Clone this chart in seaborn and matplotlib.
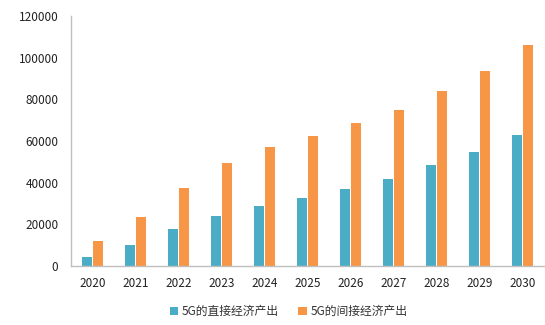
import matplotlib
matplotlib.use("Agg")
import matplotlib.pyplot as plt
import seaborn as sns
import pandas as pd

years = ["2020", "2021", "2022", "2023", "2024", "2025", "2026", "2027", "2028", "2029", "2030"]
direct = [4460, 10070, 17600, 24100, 28770, 32600, 36780, 41870, 48280, 54820, 62800]
indirect = [11850, 23350, 37250, 49550, 57200, 62330, 68560, 74800, 84050, 93650, 105960]
series_names = ["5G的直接经济产出", "5G的间接经济产出"]
yticks = [0, 20000, 40000, 60000, 80000, 100000, 120000]

sns.set_theme(style="white")
plt.rcParams['font.family'] = ['Noto Sans CJK SC', 'DejaVu Sans']

df = pd.DataFrame({
    "year": years * 2,
    "value": direct + indirect,
    "series": [series_names[0]] * len(years) + [series_names[1]] * len(years),
})

fig = plt.figure(figsize=(5.45, 3.25), dpi=100)
ax = fig.add_axes([0.130, 0.1815, 0.868, 0.7695])
palette = {series_names[0]: "#4BACC6", series_names[1]: "#F79646"}
sns.barplot(data=df, x="year", y="value", hue="series", palette=palette,
            width=0.51, gap=0.08, ax=ax, saturation=1, edgecolor="none")

ax.set_xlim(-0.5, len(years) - 0.5)
ax.set_ylim(0, 120000)
ax.set_yticks(yticks)
ax.set_yticklabels([str(t) for t in yticks], fontsize=8.5, color="#222222")
ax.tick_params(axis="x", labelsize=8.5, colors="#222222", length=0, pad=8)
ax.tick_params(axis="y", length=0, pad=9)
ax.set_xlabel("")
ax.set_ylabel("")
for s in ["top", "right"]:
    ax.spines[s].set_visible(False)
for s in ["left", "bottom"]:
    ax.spines[s].set_color("#BFBFBF")
    ax.spines[s].set_linewidth(1)

handles, labels = ax.get_legend_handles_labels()
ax.legend(handles, labels, loc="center", bbox_to_anchor=(0.46, -0.183), ncol=2,
          frameon=False, fontsize=8.5, handlelength=0.7, handleheight=0.7,
          handletextpad=0.3, columnspacing=1.7, labelcolor="#333333")

fig.savefig("out.png", dpi=100)
